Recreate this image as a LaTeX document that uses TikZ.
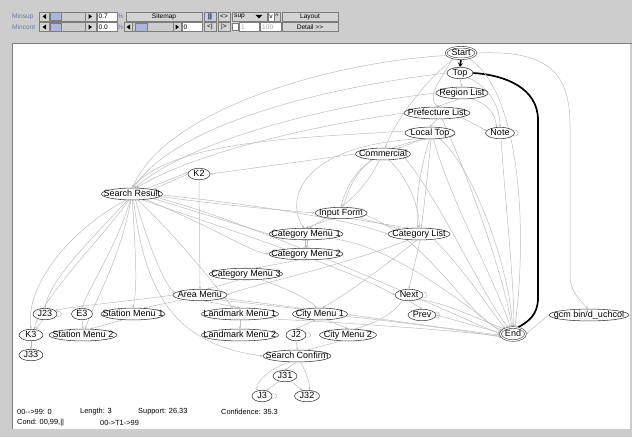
\documentclass[tikz,border=0pt]{standalone}
\usepackage{fontspec}
\setmainfont{Liberation Sans}
\usetikzlibrary{shapes.geometric,arrows.meta,calc}
\definecolor{bgc}{HTML}{CDCDCD}
\definecolor{edc}{HTML}{BEBEBE}
\definecolor{ndc}{HTML}{3A3A3A}
\definecolor{lblc}{HTML}{6A78A8}
\definecolor{thumbc}{HTML}{AEB5DC}
\definecolor{btnc}{HTML}{D4D4D4}
\definecolor{frc}{HTML}{7C7C7C}
\definecolor{gtxt}{HTML}{A0A0A0}
\pgfdeclarelayer{bg}\pgfdeclarelayer{edges}\pgfsetlayers{bg,edges,main}
\newcommand\nfont{\fontsize{9}{10}\selectfont}
\newcommand\tfont{\fontsize{6.6}{7}\selectfont}
\newcommand\sfont{\fontsize{7.4}{8}\selectfont}
\tikzset{
 gn/.style={ellipse, draw=ndc, fill=white, line width=0.55pt, inner sep=0pt, minimum height=11pt, font=\nfont},
 dbl/.style={double=white, double distance=1.1pt},
 ed/.style={draw=edc, line width=0.5pt, -{Stealth[length=2.6pt,width=2.2pt]}},
 thk/.style={draw=black, line width=1.7pt},
 btn/.style={draw=frc, fill=btnc, line width=0.5pt},
 fld/.style={draw=frc, fill=white, line width=0.5pt},
 tb/.style={font=\tfont, inner sep=0pt},
 st/.style={font=\sfont, inner sep=0pt, anchor=west},
}
\newcommand\gnd[5][]{\node[gn,minimum width=#4pt,#1] (#2) at (#3) {\makebox[0pt]{\vphantom{Ay}#5}};}
\newcommand\lp[1]{\draw[ed,-] (#1.12) .. controls ($(#1.12)+(7,-1.5)$) and ($(#1.-12)+(7,1.5)$) .. (#1.-12);}
\begin{document}
\begin{tikzpicture}[x=1pt,y=-1pt]
\useasboundingbox (0,0) rectangle (632,437);
\begin{pgfonlayer}{bg}
 \fill[bgc] (0,0) rectangle (632,437);
 \fill[white] (12,43) rectangle (630,429);
 \draw[frc, line width=0.8pt] (12,429) -- (12,43) -- (632,43);
\end{pgfonlayer}
% ---------- toolbar row 1 ----------
\node[tb, text=lblc, anchor=west] (ms) at (12,16.5) {Minsup};
\draw[btn] (39,12) rectangle (49,21);
\fill (46,14) -- (46,19) -- (42.5,16.5) -- cycle;
\draw[draw=frc, fill=bgc] (49,12) rectangle (85,21);
\draw[draw=frc, fill=thumbc] (50,12.5) rectangle (61,20.5);
\draw[btn] (85,12) rectangle (96,21);
\fill (88.5,14) -- (88.5,19) -- (92,16.5) -- cycle;
\draw[fld] (97,12) rectangle (117,21);
\node[tb, anchor=west] (f1) at (98.5,16.5) {0.7};
\node[tb, text=lblc] (p1) at (120.5,16.5) {\%};
\draw[btn] (126,12) rectangle (202,21);
\node[tb] (b1) at (164,16.5) {Sitemap};
\draw[draw=frc, fill=thumbc!70!white] (204,12) rectangle (216,21);
\node[tb, font=\tfont\bfseries] (b2) at (210,16.5) {||};
\draw[btn] (218,12) rectangle (230,21);
\node[tb] (b3) at (224,16.5) {<>};
\draw[btn] (232,12) rectangle (267,21);
\node[tb, anchor=west] (b4) at (234,16.5) {sup};
\fill (255.5,14.8) -- (262.5,14.8) -- (259,18.3) -- cycle;
\draw[fld] (268,12) rectangle (274,21);
\node[tb] (b5) at (271,17) {v};
\draw[btn] (274,12) rectangle (280,21);
\node[tb] (b6) at (277,16) {\textasciicircum};
\draw[btn] (282,12) rectangle (338,21);
\node[tb] (b7) at (310,16.5) {Layout};
% ---------- toolbar row 2 ----------
\node[tb, text=lblc, anchor=west] (mc) at (12,27) {Mincont};
\draw[btn] (39,22.5) rectangle (49,31.5);
\fill (46,24.5) -- (46,29.5) -- (42.5,27) -- cycle;
\draw[draw=frc, fill=bgc] (49,22.5) rectangle (85,31.5);
\draw[draw=frc, fill=thumbc] (50,23) rectangle (61,31);
\draw[btn] (85,22.5) rectangle (96,31.5);
\fill (88.5,24.5) -- (88.5,29.5) -- (92,27) -- cycle;
\draw[fld] (97,22.5) rectangle (117,31.5);
\node[tb, anchor=west] (f2) at (98.5,27) {0.0};
\node[tb, text=lblc] (p2) at (120.5,27) {\%};
\draw[btn] (124,22.5) rectangle (132,31.5);
\fill (130,24.5) -- (130,29.5) -- (126.5,27) -- cycle;
\draw[draw=frc, fill=bgc] (132,22.5) rectangle (173,31.5);
\draw[draw=frc, fill=thumbc] (135,23) rectangle (147,31);
\draw[btn] (173,22.5) rectangle (181,31.5);
\fill (175.5,24.5) -- (175.5,29.5) -- (179,27) -- cycle;
\draw[fld] (182,22.5) rectangle (202,31.5);
\node[tb, anchor=west] (f3) at (183.5,27) {0};
\draw[btn] (204,22.5) rectangle (216,31.5);
\node[tb] (b8) at (210,27) {<|};
\draw[btn] (218,22.5) rectangle (230,31.5);
\node[tb] (b9) at (224,27) {|>};
\draw[fld] (232.5,23.5) rectangle (238,30.5);
\draw[fld] (239,22.5) rectangle (259,31.5);
\node[tb, anchor=west, text=gtxt] (f4) at (241,27) {1};
\draw[fld] (260,22.5) rectangle (281,31.5);
\node[tb, anchor=west, text=gtxt] (f5) at (262,27) {100};
\draw[btn] (282,22.5) rectangle (338,31.5);
\node[tb] (b10) at (310,27) {Detail >{}>};
% ---------- graph nodes ----------
\gnd[dbl]{Start}{461,53}{30}{Start}
\gnd{Top}{460,73}{26}{Top}
\gnd{RL}{462,93}{52}{Region List}
\gnd{PL}{437,113}{66}{Prefecture List}
\gnd{LT}{430,133}{50}{Local Top}
\gnd{Note}{500,133}{29}{Note}
\gnd{Com}{383,154}{55}{Commercial}
\gnd{K2}{199,174}{22}{K2}
\gnd{SR}{132,194}{61}{Search Result}
\gnd{IF}{341,213}{52}{Input Form}
\gnd{CM1}{306,234}{74}{Category Menu 1}
\gnd{CL}{419,234}{62}{Category List}
\gnd{CM2}{306,254}{74}{Category Menu 2}
\gnd{CM3}{246,274}{73}{Category Menu 3}
\gnd{AM}{200,295}{54}{Area Menu}
\gnd{Next}{409,295}{28}{Next}
\gnd{J23}{45,314}{24}{J23}
\gnd{E3}{82,314}{21}{E3}
\gnd{SM1}{133,314}{64}{Station Menu 1}
\gnd{LM1}{240,314}{77}{Landmark Menu 1}
\gnd{CiM1}{320,314}{55}{City Menu 1}
\gnd{Prev}{422,315}{28}{Prev}
\gnd{gcm}{589,315}{80}{gcm bin/d\_uchcol}
\gnd{K3}{31,335}{24}{K3}
\gnd{SM2}{83,335}{68}{Station Menu 2}
\gnd{LM2}{240,335}{77}{Landmark Menu 2}
\gnd{J2}{296,335}{20}{J2}
\gnd{CiM2}{348,335}{57}{City Menu 2}
\gnd[dbl,minimum height=13pt]{End}{513,334}{25}{End}
\gnd{J33}{31,355}{24}{J33}
\gnd{SC}{297,356}{68}{Search Confirm}
\gnd{J31}{285,376}{24}{J31}
\gnd{J3}{262,396}{20}{J3}
\gnd{J32}{307,396}{25}{J32}
% ---------- status text ----------
\node[st] (s1) at (17,412) {00-{}->99: 0};
\node[st] (s2) at (80,412) {Length: 3};
\node[st] (s3) at (138,412) {Support: 26.33};
\node[st] (s4) at (221,412) {Confidence: 35.3};
\node[st] (s5) at (17,422.5) {Cond: 00,99,||};
\node[st] (s6) at (100,422.5) {00-{}>T1-{}>99};
% ---------- edges ----------
\begin{pgfonlayer}{edges}
\draw[thk,-{Stealth[length=4pt,width=5pt]}] (Start.south) -- (Top.north);
\draw[thk] (Top.east) .. controls (505,75) and (538,88) .. (538,120) -- (538,298) .. controls (538,315) and (528,322) .. (End.55);
\draw[ed] (Start.east) .. controls (545,50) and (570,70) .. (570,125) -- (570,275) .. controls (570,292) and (580,300) .. (gcm.100);
\draw[ed] (Start.190) .. controls (330,62) and (165,110) .. (SR.85);
\draw[ed] (Top.west) .. controls (320,88) and (175,125) .. (SR.75);
\draw[ed] (RL.west) .. controls (330,105) and (190,140) .. (SR.65);
\draw[ed] (LT.175) .. controls (300,138) and (175,140) .. (SR.95);
\draw[ed] (PL.west) .. controls (320,125) and (200,150) .. (SR.55);
\draw[ed] (Start.220) .. controls (430,75) and (395,120) .. (Com.70);
\draw[ed] (Start.-150) .. controls (445,75) and (425,95) .. (PL.80);
\draw[ed] (Start.-35) .. controls (520,90) and (528,230) .. (End.75);
\draw[ed] (Top.south) -- (RL.north);
\draw[ed] (RL.-120) -- (PL.north);
\draw[ed] (PL.south) -- (LT.north);
\draw[ed] (LT.-140) -- (Com.20);
\draw[ed] (Com.west) -- (K2.east);
\draw[ed] (K2.west) -- (SR.12);
\draw[ed] (SR.20) -- (K2.170);
\draw[ed] (Top.-30) .. controls (492,88) and (500,110) .. (Note.north);
\draw[ed] (RL.-30) .. controls (490,105) and (495,115) .. (Note.120);
\draw[ed] (PL.-10) -- (Note.170);
\draw[ed] (Note.-80) .. controls (505,200) and (515,290) .. (End.85);
\draw[ed] (PL.-50) .. controls (470,180) and (505,280) .. (End.100);
\draw[ed] (LT.-60) .. controls (450,200) and (495,280) .. (End.110);
\draw[ed] (LT.-30) .. controls (475,170) and (510,270) .. (End.95);
\draw[ed] (Com.-10) .. controls (440,200) and (485,300) .. (End.125);
\draw[ed] (CL.-20) .. controls (465,270) and (490,310) .. (End.145);
\draw[ed] (IF.-5) .. controls (430,240) and (470,320) .. (End.160);
\draw[ed] (SR.-5) .. controls (220,205) and (280,210) .. (IF.west);
\draw[ed] (SR.-12) -- (CM1.west);
\draw[ed] (SR.-22) .. controls (220,230) and (250,252) .. (CM2.west);
\draw[ed] (SR.-2) .. controls (260,205) and (350,220) .. (CL.west);
\draw[ed] (SR.-30) .. controls (260,240) and (350,270) .. (Next.west);
\draw[ed] (SR.-8) .. controls (260,225) and (420,300) .. (End.west);
\draw[ed] (SR.-60) .. controls (150,250) and (165,285) .. (AM.175);
\draw[ed] (SR.-75) .. controls (145,300) and (180,345) .. (SC.west);
\draw[ed] (SR.-45) .. controls (180,240) and (215,285) .. (LM1.140);
\draw[ed] (SR.-85) .. controls (135,250) and (138,285) .. (SM1.north);
\draw[ed] (SR.-105) .. controls (115,250) and (90,285) .. (E3.north);
\draw[ed] (SR.-100) .. controls (120,260) and (95,300) .. (SM2.70);
\draw[ed] (SR.-125) .. controls (90,240) and (50,280) .. (J23.north);
\draw[ed] (SR.-135) .. controls (70,230) and (25,285) .. (K3.north);
\draw[ed] (SR.-115) .. controls (100,240) and (40,300) .. (K3.60);
\draw[ed] (K2.south) -- (AM.north);
\draw[ed] (Com.-150) .. controls (355,170) and (345,190) .. (IF.north);
\draw[ed] (LT.-120) .. controls (355,150) and (350,190) .. (IF.75);
\draw[ed] (LT.-150) .. controls (300,145) and (285,200) .. (CM1.110);
\draw[ed] (Com.-120) .. controls (360,200) and (330,215) .. (CM1.60);
\draw[ed] (Com.-45) .. controls (410,180) and (420,210) .. (CL.north);
\draw[ed] (LT.-80) .. controls (428,170) and (425,200) .. (CL.70);
\draw[ed] (LT.-95) .. controls (420,170) and (415,200) .. (CL.100);
\draw[ed] (IF.-150) -- (CM1.north);
\draw[ed] (IF.-15) -- (CL.165);
\draw[ed] (IF.-30) -- (CL.150);
\draw[ed] (CM1.-95) -- (CM2.95);
\draw[ed] (CM1.-80) -- (CM2.80);
\draw[ed] (CM2.-140) -- (CM3.30);
\draw[ed] (CM3.-140) -- (AM.40);
\draw[ed] (CL.-150) .. controls (330,270) and (250,285) .. (AM.east);
\draw[ed] (CL.-110) .. controls (380,270) and (345,295) .. (CiM1.70);
\draw[ed] (CL.-80) -- (Next.north);
\draw[ed] (CM3.-20) .. controls (290,290) and (310,300) .. (CiM1.120);
\draw[ed] (CM1.-10) .. controls (390,245) and (460,300) .. (End.170);
\draw[ed] (AM.west) .. controls (140,300) and (75,306) .. (J23.20);
\draw[ed] (AM.-165) -- (SM1.30);
\draw[ed] (AM.-60) -- (LM1.north);
\draw[ed] (AM.-15) -- (CiM1.165);
\draw[ed] (AM.-8) .. controls (320,310) and (420,325) .. (End.185);
\draw[ed] (LM1.-10) .. controls (330,322) and (430,328) .. (End.190);
\draw[ed] (CiM1.-5) .. controls (400,322) and (460,330) .. (End.195);
\draw[ed] (Next.south) -- (Prev.north);
\draw[ed] (Next.-30) .. controls (440,300) and (480,320) .. (End.150);
\draw[ed] (Next.-140) .. controls (395,310) and (385,320) .. (CiM2.40);
\draw[ed] (Prev.east) -- (End.175);
\draw[ed] (J23.-110) -- (K3.50);
\draw[ed] (E3.south) -- (SM2.north);
\draw[ed] (SM1.-150) -- (SM2.40);
\draw[ed] (K3.south) -- (J33.north);
\draw[ed] (LM1.south) -- (LM2.north);
\draw[ed] (CiM1.-130) -- (J2.north);
\draw[ed] (CiM1.-40) -- (CiM2.north);
\draw[ed] (J2.south) -- (SC.85);
\draw[ed] (CiM2.-140) -- (SC.30);
\draw[ed] (SC.-95) -- (J31.north);
\draw[ed] (J31.-140) -- (J3.50);
\draw[ed] (J31.-40) -- (J32.130);
\draw[ed] (SC.-140) .. controls (265,370) and (255,385) .. (J3.130);
\draw[ed] (SC.-60) .. controls (305,370) and (310,382) .. (J32.70);
\draw[ed] (gcm.west) -- (End.east);
\lp{RL}\lp{PL}\lp{LT}\lp{Note}\lp{Com}\lp{SR}\lp{IF}\lp{CM1}\lp{CM2}\lp{CM3}
\lp{AM}\lp{Next}\lp{J23}\lp{SM1}\lp{SM2}\lp{LM1}\lp{LM2}\lp{J2}\lp{CiM2}
\lp{SC}\lp{J3}\lp{gcm}\lp{Prev}
\end{pgfonlayer}
\end{tikzpicture}
\end{document}
